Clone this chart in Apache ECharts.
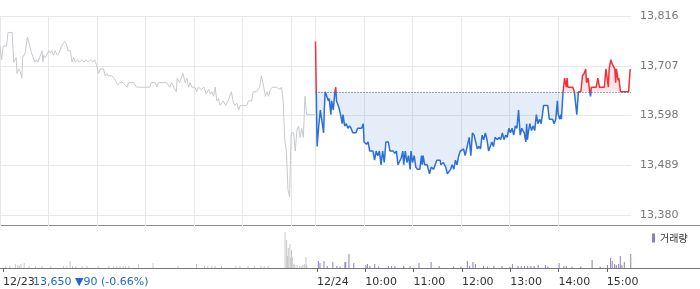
<!DOCTYPE html>
<html><head><meta charset="utf-8">
<script src="https://cdn.jsdelivr.net/npm/echarts@6/dist/echarts.min.js"></script>
<style>html,body{margin:0;padding:0;background:#fff}#c{width:700px;height:289px}</style>
</head><body><div id="c"></div>
<script>
// minutes from 12/23 09:00 (12/24 09:00 = 390)
const prevMinutes = [0,2,4,8,10,15,17,20,21,23,25,27,28,31,34,36,39,41,43,45,47,49,52,53,54,56,59,60,62,64,66,68,71,73,76,80,82,84,87,89,91,93,96,98,101,104,106,109,112,115,117,119,122,124,128,130,132,134,138,141,144,146,148,152,157,159,165,169,173,179,185,187,192,194,196,202,206,210,212,218,219,222,226,229,231,233,235,237,241,243,245,249,252,255,258,260,262,264,266,268,270,272,276,279,282,286,288,290,293,295,297,301,305,307,311,313,317,321,323,325,328,330,332,334,337,342,346,348,350,352,354,356,358,359,360,363,365,367,369,371,373,375,377,379,389];
const prevPrices = [13750,13720,13750,13750,13780,13780,13715,13725,13690,13700,13695,13680,13725,13735,13770,13770,13735,13735,13715,13720,13715,13715,13740,13715,13730,13725,13735,13740,13735,13740,13730,13740,13730,13735,13750,13760,13755,13740,13740,13715,13725,13715,13720,13715,13720,13715,13720,13715,13720,13715,13720,13710,13690,13700,13700,13685,13690,13685,13685,13680,13670,13665,13670,13670,13660,13670,13670,13660,13660,13660,13660,13670,13670,13660,13670,13670,13670,13660,13670,13650,13680,13670,13690,13670,13680,13660,13670,13660,13660,13650,13660,13655,13660,13645,13655,13645,13650,13640,13660,13630,13635,13620,13630,13620,13630,13650,13630,13620,13625,13610,13620,13620,13620,13630,13630,13650,13650,13660,13685,13670,13640,13650,13640,13655,13660,13660,13655,13660,13630,13545,13520,13435,13420,13500,13560,13560,13520,13565,13575,13550,13570,13550,13640,13600,13600];
const todayMinutes = [390,392,394,396,398,400,401,402,404,406,407,409,410,412,414,415,416,418,419,421,423,424,426,428,430,432,434,436,440,442,447,449,450,453,455,457,461,463,465,467,469,471,473,475,477,480,482,486,488,490,492,494,496,498,499,501,503,505,507,508,510,512,514,516,519,521,522,523,525,528,531,533,536,538,540,542,544,545,548,551,553,555,557,559,561,563,565,567,569,571,573,575,577,580,582,584,586,588,590,592,594,596,598,600,602,604,606,608,610,612,615,617,619,621,623,625,627,629,631,633,635,637,639,641,643,645,648,650,651,652,653,655,657,659,661,663,665,667,669,671,672,677,679,683,685,687,689,690,692,693,694,696,698,700,701,702,708,710,712,713,715,718,720,722,724,725,727,729,730,731,737,739,741,743,747,749,751,752,753,755,757,760,761,762,764,765,767,777,779];
const todayPrices = [13760,13530,13575,13610,13585,13560,13615,13650,13650,13630,13635,13600,13630,13610,13650,13660,13630,13630,13615,13600,13580,13600,13575,13580,13570,13575,13570,13560,13560,13570,13570,13580,13540,13535,13540,13520,13520,13500,13520,13510,13520,13490,13520,13495,13540,13540,13520,13520,13515,13520,13490,13490,13505,13520,13490,13520,13495,13510,13480,13520,13495,13510,13485,13480,13480,13510,13490,13510,13490,13490,13470,13485,13480,13490,13500,13500,13500,13490,13495,13485,13470,13470,13480,13490,13480,13500,13490,13510,13520,13520,13525,13510,13510,13550,13510,13560,13555,13555,13525,13530,13525,13555,13545,13560,13545,13520,13530,13540,13530,13550,13545,13550,13545,13560,13545,13555,13550,13570,13560,13570,13555,13575,13570,13610,13555,13570,13560,13540,13580,13545,13560,13580,13565,13575,13565,13600,13580,13590,13580,13580,13620,13620,13590,13590,13580,13590,13630,13600,13590,13600,13590,13650,13680,13660,13680,13660,13660,13650,13650,13600,13650,13650,13685,13690,13700,13670,13680,13650,13640,13660,13660,13680,13660,13660,13660,13700,13700,13660,13700,13720,13710,13700,13670,13700,13675,13680,13650,13650,13700];
const prevVolMinutes = [4,9,16,19,21,23,27,33,41,49,60,76,80,84,87,91,99,105,119,132,138,142,146,150,153,157,169,187,218,241,251,255,260,264,272,290,295,305,313,321,325,330,351,353,354,355,357,358,359,360,362,363,366,369,371,373,375,377,378];
const prevVolumes = [2,2,4,3,2,4,5,2,2,2,2,2,2,7,2,2,2,2,2,2,2,2,2,2,2,2,4,5,2,4,2,2,2,2,2,2,2,2,2,2,2,2,36,28,12,20,24,10,18,11,4,3,3,2,2,3,4,11,3];
const todayVolMinutes = [391,393,398,402,409,414,418,424,425,429,435,450,452,455,461,466,478,482,486,497,505,516,531,541,559,568,576,579,583,586,596,601,609,619,629,632,639,643,647,651,655,659,664,673,676,690,696,699,706,717,731,741,750,754,756,759,761,764,766,768,771,779];
const todayVolumes = [7,5,7,2,6,2,1.5,6,6,14,5,3,4,2,4,1.5,2,2,2,2,2,5,6,2,1.5,1.5,7,2,6,4,2,1.5,2,2,1.5,4,2,2,2,2,2,2,3,3,1.5,5,2,2,1.5,1.5,8,1.5,3,10,7,4,3,4,12,3,6,14];
const priceTicks = [13380,13489,13598,13707,13816];
const gridMinutes = [0,60,120,180,240,300,360,390,450,510,570,630,690,750];
const axisTickMinutes = [0,390,450,510,570,630,690,750];
const axisTickLabels = ['12/23','12/24','10:00','11:00','12:00','13:00','14:00','15:00'];
const baseline = 13650;
const summaryText = '13,650 ▼90 (-0.66%)';
const volumeName = '거래량';

const xMax = 780;
const yMin = priceTicks[0];
const yMax = priceTicks[priceTicks.length - 1];
const zip = (a, b) => a.map((v, i) => [v, b[i]]);
const labelOf = {};
axisTickMinutes.forEach((m, i) => { labelOf[m] = axisTickLabels[i]; });
const gridColor = '#e8e8e8';

const chart = echarts.init(document.getElementById('c'));
chart.setOption({
  animation: false,
  textStyle: { fontFamily: 'DejaVu Sans' },
  grid: [
    { left: 0, top: 16, width: 631, height: 199 },
    { left: 0, top: 16, width: 631, height: 210 },
    { left: 0, top: 230, width: 631, height: 38 }
  ],
  xAxis: [
    { gridIndex: 0, type: 'value', min: 0, max: xMax, show: false },
    { gridIndex: 1, type: 'value', min: 0, max: xMax,
      axisLine: { show: false }, axisLabel: { show: false },
      axisTick: { show: false, customValues: gridMinutes },
      splitLine: { show: true, showMinLine: true, showMaxLine: false, lineStyle: { color: gridColor, width: 1 } } },
    { gridIndex: 2, type: 'value', min: 0, max: xMax,
      axisLine: { show: false }, splitLine: { show: false },
      axisTick: { show: true, customValues: axisTickMinutes, length: 4, lineStyle: { color: '#666' } },
      axisLabel: { show: true, customValues: axisTickMinutes, formatter: v => labelOf[v] || '',
        align: 'left', margin: 9, color: '#333', fontSize: 11, fontFamily: 'DejaVu Sans' } }
  ],
  yAxis: [
    { gridIndex: 0, type: 'value', min: yMin, max: yMax, position: 'right',
      axisLine: { show: false },
      axisTick: { show: false, customValues: priceTicks },
      splitLine: { show: true, showMinLine: true, showMaxLine: true, lineStyle: { color: gridColor, width: 1 } },
      axisLabel: { customValues: priceTicks, formatter: v => Number(v).toLocaleString('en-US'),
        margin: 9, color: '#777', fontSize: 11, fontFamily: 'DejaVu Sans' } },
    { gridIndex: 1, type: 'value', min: 0, max: 1, show: false },
    { gridIndex: 2, type: 'value', min: 0, max: 38, show: false }
  ],
  visualMap: {
    type: 'piecewise', show: false, seriesIndex: 1, dimension: 1,
    pieces: [{ gt: baseline, lte: yMax, color: '#f0303a' }, { gte: yMin, lte: baseline, color: '#2c6fd6' }]
  },
  legend: {
    data: [volumeName], left: 652, top: 233, padding: 0, itemWidth: 3, itemHeight: 9, icon: 'rect',
    selectedMode: false,
    textStyle: { fontSize: 10, color: '#333', fontFamily: 'Noto Sans CJK KR' }
  },
  series: [
    { type: 'line', xAxisIndex: 0, yAxisIndex: 0, data: zip(prevMinutes, prevPrices),
      showSymbol: false, silent: true, z: 2,
      lineStyle: { color: '#c6c9ce', width: 1 }, itemStyle: { color: '#c6c9ce' } },
    { type: 'line', xAxisIndex: 0, yAxisIndex: 0, data: zip(todayMinutes, todayPrices),
      showSymbol: false, silent: true, z: 3,
      lineStyle: { width: 1.5 },
      areaStyle: { origin: baseline, opacity: 0.12 } },
    { type: 'line', xAxisIndex: 0, yAxisIndex: 0, data: [], silent: true, z: 4,
      markLine: { silent: true, symbol: 'none', label: { show: false }, animation: false,
        lineStyle: { color: '#555', width: 1, type: [1, 2] },
        data: [[{ coord: [axisTickMinutes[1], baseline] }, { coord: [xMax, baseline] }]] } },
    { type: 'bar', xAxisIndex: 2, yAxisIndex: 2, barWidth: 1, silent: true,
      itemStyle: { color: '#c8c8c8' }, data: zip(prevVolMinutes, prevVolumes) },
    { name: volumeName, type: 'bar', xAxisIndex: 2, yAxisIndex: 2, barWidth: 1, silent: true,
      itemStyle: { color: '#8e7cc6' }, data: zip(todayVolMinutes, todayVolumes) }
  ],
  graphic: [
    { type: 'line', silent: true, shape: { x1: 0, y1: 225.5, x2: 700, y2: 225.5 }, style: { stroke: '#8c8c8c', lineWidth: 1 } },
    { type: 'line', silent: true, shape: { x1: 0, y1: 268.5, x2: 700, y2: 268.5 }, style: { stroke: '#777', lineWidth: 1 } },
    { type: 'text', silent: true, x: 33, y: 282, style: { text: summaryText, fill: '#1f66d1',
      font: '11px "DejaVu Sans"', verticalAlign: 'middle', align: 'left' } }
  ]
});
</script>
</body></html>
